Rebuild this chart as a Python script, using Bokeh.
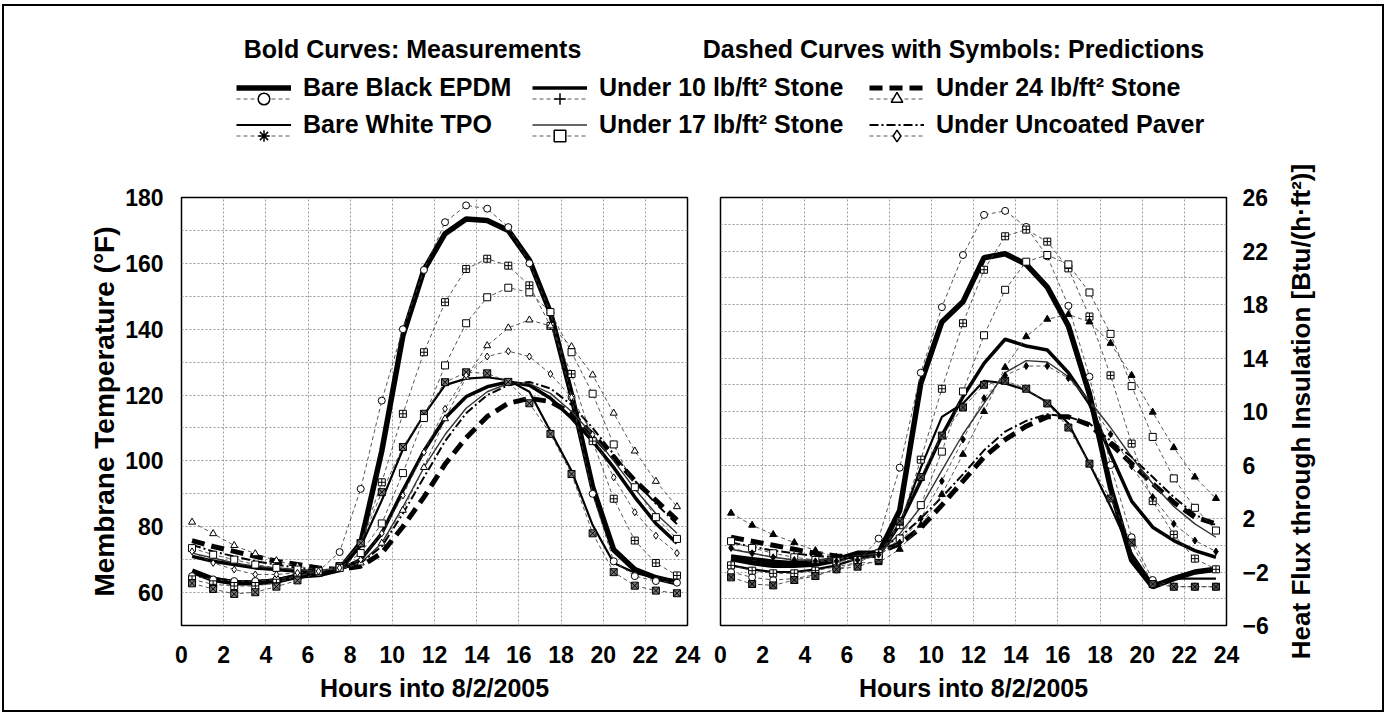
import math
from bokeh.plotting import figure
from bokeh.models import Range1d, SingleIntervalTicker, FixedTicker, Legend, LegendItem, Label
from bokeh.layouts import column, row
from bokeh.embed import file_html
from bokeh.resources import INLINE

FONT = "Liberation Sans"
NAN = float("nan")

hours = [0.5, 1.5, 2.5, 3.5, 4.5, 5.5, 6.5, 7.5, 8.5, 9.5, 10.5, 11.5,
         12.5, 13.5, 14.5, 15.5, 16.5, 17.5, 18.5, 19.5, 20.5, 21.5, 22.5, 23.5]

series_names = ["Bare Black EPDM", "Under 10 lb/ft\u00b2 Stone", "Under 24 lb/ft\u00b2 Stone",
                "Bare White TPO", "Under 17 lb/ft\u00b2 Stone", "Under Uncoated Paver"]

# ---- Left panel: membrane temperature (F) ----
temp_black_meas = [66.5, 64, 63, 63, 63.5, 65, 65.5, 67, 75, 103, 138, 158, 169, 173.5, 173, 170, 161, 145, 120, 92, 73, 67, 64.5, 63]
temp_10_meas = [71, 69.5, 68.5, 67.5, 67, 66.5, 66.5, 67, 70, 78, 91, 103, 113, 119.5, 122.5, 124, 123, 119, 113, 106, 98, 89, 81, 75]
temp_24_meas = [75.8, 74, 72.5, 71, 69.5, 68.5, 67.5, 67, 68, 72, 80, 89, 99, 107, 113.5, 117.5, 119, 118, 114.5, 108, 101, 94, 88, 82]
temp_tpo_meas = [66, 64.5, 63.5, 63.5, 64, 65.5, 66, 67.5, 74, 88, 103.5, 114, 123, 125, 125.4, 124.5, 121, 109, 97, 80.5, 69, 66, 64.5, 63.7]
temp_17_meas = [72, 70.5, 69, 68, 67.5, 67, 66.5, 67, 69, 75, 86, 98, 108, 116, 121, 123.5, 123.5, 120.5, 115, 108, 100, 91.5, 84, 78]
temp_paver_meas = [74.5, 72.5, 71, 69.5, 68.5, 67.5, 66.5, 67, 69, 74, 84, 95, 106, 114.5, 120, 123, 124, 122, 117, 110, 102, 94, 87, 80.8]

temp_black_pred = [65, 64, 63.5, 63.5, 64, 65, 66.5, 72.3, 91.5, 118.3, 140, 158, 172.5, 177.6, 176.6, 171, 160, 145, 119.3, 90, 69.5, 65, 63.5, 63]
temp_10_pred = [64, 62.5, 62, 62, 63, 65, 66.5, 68, 75, 93.5, 114.3, 133, 148.2, 158.3, 161.4, 159.3, 153.3, 141, 126.4, 106, 88.5, 75.8, 69, 65.2]
temp_24_pred = [81.4, 77.9, 74.3, 71.8, 69.7, 68, 67, 67, 69, 75, 85, 98, 112.8, 125.4, 135, 140.4, 142.8, 141, 134.7, 126.1, 114.5, 103, 93.8, 86.1]
temp_tpo_pred = [62.8, 61.1, 59.6, 60.1, 61.8, 63.7, 66, 68, 75, 90.5, 104.2, 114.3, 123.9, 126.9, 126.6, 124, 117.5, 108.2, 96, 78, 66.2, 62.1, 60.6, 59.8]
temp_17_pred = [73.5, 71.5, 70, 68.5, 67.5, 67, 66.5, 67.5, 72, 81, 96.3, 113, 129, 141.8, 149.7, 152.6, 151.2, 145.2, 133, 120.4, 105, 92, 82.9, 76.3]
temp_paver_pred = [72.5, 69, 67, 65.5, 65.5, 66, 66.5, 67.5, 70, 78, 89.5, 102.6, 115.8, 126, 131.7, 133.3, 131.7, 126.4, 119.3, 108, 95, 84.4, 77.3, 72]

# ---- Right panel: heat flux through insulation [Btu/(h ft2)] ----
flux_black_meas = [-1.0, -1.3, -1.5, -1.5, -1.4, -1.1, -0.6, -0.6, 2.6, 12.1, 16.7, 18.2, 21.5, 21.8, 21.0, 19.3, 16.4, 11.3, 4.3, -1.1, -3.1, -2.5, -2.0, -1.8]
flux_10_meas = [-0.8, -1.0, -1.2, -1.3, -1.2, -1.0, -0.8, -0.8, 1.6, 4.8, 8.2, 11.1, 13.6, 15.4, 14.9, 14.6, 12.9, 10.6, 6.8, 3.3, 1.35, 0.35, -0.4, -0.9]
flux_24_meas = [0.6, 0.3, 0.0, -0.3, -0.6, -0.8, -0.9, -0.5, 0.1, 1.3, 3.0, 4.8, 6.6, 7.9, 8.9, 9.6, 9.6, 9.0, 7.6, 6.1, 4.6, 3.2, 2.1, 1.6]
flux_tpo_meas = [-1.5, -1.8, -2.0, -2.0, -1.8, -1.5, -1.0, -0.8, 1.5, 5.8, 9.6, 10.6, 12.3, 12.1, 11.6, 10.7, 9.1, 6.1, 2.9, -0.6, -2.9, -2.5, -2.5, -2.5]
flux_17_meas = [-0.3, -0.6, -0.9, -1.1, -1.1, -1.0, -0.8, -0.6, 0.85, 2.85, 5.6, 8.3, 10.6, 12.9, 13.8, 13.7, 12.6, 10.8, 8.8, 6.6, 4.6, 2.9, 1.6, 0.6]
flux_paver_meas = [0.2, -0.1, -0.4, -0.6, -0.8, -0.9, -0.9, -0.3, 0.6, 2.0, 3.6, 5.3, 7.1, 8.5, 9.3, 9.8, 9.6, 9.1, 7.8, 6.6, 5.1, 3.6, 2.3, 1.5]

flux_black_pred = [-2.0, -2.4, -2.6, -2.5, -2.2, -1.8, -1.3, 0.5, 5.8, 12.9, 17.8, 21.7, 24.7, 25.0, 23.8, 21.6, 17.9, 12.6, 6.0, 0.6, -2.6, -3.1, -3.1, -3.1]
flux_10_pred = [-1.5, -1.9, -2.1, -2.1, -1.9, -1.6, -1.3, -0.6, 1.5, 6.4, 11.7, 16.6, 20.6, 23.1, 23.6, 22.7, 20.7, 17.1, 12.7, 7.6, 3.3, 0.8, -1.0, -1.8]
flux_24_pred = [2.4, 1.5, 0.8, 0.2, -0.4, -0.9, -1.3, -1.3, -0.3, 1.5, 3.8, 6.8, 10.0, 13.3, 15.6, 16.9, 17.25, 16.7, 15.1, 12.7, 9.95, 7.3, 5.1, 3.5]
flux_tpo_pred = [-2.4, -2.9, -3.0, -2.6, -2.3, -1.8, -1.6, -1.1, 1.8, 5.1, 8.2, 10.3, 12.0, 12.3, 11.7, 10.6, 8.8, 6.1, 3.5, 0.2, -2.9, -3.1, -3.1, -3.1]
flux_17_pred = [0.3, -0.2, -0.6, -0.9, -1.1, -1.2, -1.1, -0.8, 0.5, 3.0, 7.0, 11.5, 15.7, 19.1, 21.2, 21.7, 21.0, 18.9, 15.8, 11.9, 8.1, 5.0, 2.8, 1.1]
flux_paver_pred = [-0.2, -0.6, -0.9, -1.1, -1.2, -1.2, -1.1, -0.7, 0.2, 2.0, 4.8, 7.9, 11.0, 12.7, 13.4, 13.4, 12.5, 10.7, 8.3, 5.9, 3.6, 1.6, 0.35, -0.47]

left_meas = [temp_black_meas, temp_10_meas, temp_24_meas, temp_tpo_meas, temp_17_meas, temp_paver_meas]
left_pred = [temp_black_pred, temp_10_pred, temp_24_pred, temp_tpo_pred, temp_17_pred, temp_paver_pred]
right_meas = [flux_black_meas, flux_10_meas, flux_24_meas, flux_tpo_meas, flux_17_meas, flux_paver_meas]
right_pred = [flux_black_pred, flux_10_pred, flux_24_pred, flux_tpo_pred, flux_17_pred, flux_paver_pred]

right_title = "Heat Flux through Insulation [Btu/(h\u00b7ft\u00b2)]"

# styles (order as series_names)
meas_style = [
    dict(line_width=5.5, line_dash="solid", line_color="black"),
    dict(line_width=3.5, line_dash="solid", line_color="black"),
    dict(line_width=5.0, line_dash="13 7", line_color="black"),
    dict(line_width=2.2, line_dash="solid", line_color="black"),
    dict(line_width=1.4, line_dash="solid", line_color="#333333"),
    dict(line_width=2.0, line_dash="9 3 2 3", line_color="black"),
]
plot_markers = ["circle", "square_cross", "triangle", "square_x", "square", "diamond"]
legend_markers = ["circle", "cross", "triangle", "asterisk", "square", "diamond"]
left_fill = ["white", "white", "white", "#777777", "white", "white"]
right_fill = ["white", "white", "black", "#555555", "white", "black"]
PRED_LINE = dict(line_width=0.9, line_dash="4 3", line_color="#444444")


def style_panel(p):
    p.outline_line_color = "black"
    p.outline_line_width = 1.5
    p.background_fill_color = "white"
    p.border_fill_color = "white"
    for g in (p.xgrid, p.ygrid):
        g.grid_line_color = "#9a9a9a"
        g.grid_line_dash = "2 2"
        g.grid_line_width = 1
    for ax in p.axis:
        ax.axis_line_color = None
        ax.major_tick_line_color = None
        ax.minor_tick_line_color = None
        ax.major_label_text_font = FONT
        ax.major_label_text_font_style = "bold"
        ax.major_label_text_font_size = "23px"
        ax.major_label_text_color = "black"
        ax.axis_label_text_font = FONT
        ax.axis_label_text_font_style = "bold"
        ax.axis_label_text_font_size = "25px"
        ax.axis_label_text_color = "black"
    p.xaxis.ticker = SingleIntervalTicker(interval=2)
    p.xgrid.ticker = SingleIntervalTicker(interval=2)
    p.xaxis.axis_label = "Hours into 8/2/2005"
    p.xaxis.major_label_standoff = 14
    p.xaxis.axis_label_standoff = 8


def draw(p, meas, pred, fills):
    for ys, st in zip(meas, meas_style):
        p.line(hours, ys, **st)
    for ys in pred:
        p.line(hours, ys, **PRED_LINE)
    for ys, mk, fc in zip(pred, plot_markers, fills):
        p.scatter(hours, ys, marker=mk, size=7, line_color="black", line_width=1, fill_color=fc)


PLOT_H = 554
LEG_H = 150
p1 = figure(width=697, height=PLOT_H, x_range=Range1d(0, 24), y_range=Range1d(50, 180),
            output_backend="svg", toolbar_location=None,
            min_border_left=177, min_border_right=14, min_border_top=41, min_border_bottom=85)
style_panel(p1)
p1.yaxis.ticker = SingleIntervalTicker(interval=20)
p1.ygrid.ticker = SingleIntervalTicker(interval=10)
p1.yaxis.axis_label = "Membrane Temperature (\u00b0F)"
p1.yaxis.axis_label_text_font_size = "28px"
p1.yaxis.major_label_standoff = 12
p1.yaxis.axis_label_standoff = 2
draw(p1, left_meas, left_pred, left_fill)

p2 = figure(width=575, height=PLOT_H, x_range=Range1d(0, 24), y_range=Range1d(-6, 26),
            y_axis_location="right", output_backend="svg", toolbar_location=None,
            min_border_left=19, min_border_right=50, min_border_top=41, min_border_bottom=85)
style_panel(p2)
p2.yaxis.ticker = FixedTicker(ticks=[-6, -2, 2, 6, 10, 14, 18, 22, 26])
p2.ygrid.ticker = SingleIntervalTicker(interval=2)
p2.yaxis.major_label_standoff = 10
draw(p2, right_meas, right_pred, right_fill)

# full-height strip holding the right axis title (reads bottom-to-top like the reference)
STRIP_H = LEG_H + PLOT_H
p3 = figure(width=106, height=STRIP_H, x_range=Range1d(0, 1), y_range=Range1d(0, 1),
            output_backend="svg", toolbar_location=None, x_axis_location=None, y_axis_location=None,
            min_border=0)
p3.grid.visible = False
p3.outline_line_color = None
p3.add_layout(Label(x=24, y=STRIP_H - (LEG_H + 41 + 214), x_units="screen", y_units="screen",
                    text=right_title, angle=math.pi / 2,
                    text_align="center", text_baseline="middle", text_font=FONT,
                    text_font_style="bold", text_font_size="26px", text_color="black"))

# ---- legend strip ----
leg = figure(width=1272, height=LEG_H, x_range=Range1d(0, 1), y_range=Range1d(0, 1),
             output_backend="svg", toolbar_location=None, x_axis_location=None, y_axis_location=None,
             min_border=0)
leg.grid.visible = False
leg.outline_line_color = None

meas_r = [leg.line(x=[NAN], y=[NAN], **st) for st in meas_style]
pred_l = [leg.line(x=[NAN], y=[NAN], **PRED_LINE) for _ in series_names]
pred_m = [leg.scatter(x=[NAN], y=[NAN], marker=mk, size=8, line_color="black", line_width=1.5,
                      fill_color="white") for mk in legend_markers]

LEG_FONT_SIZE = "25px"
col_x = [232, 528, 865]
col_items = [[0, 3], [1, 4], [2, 5]]
MEAS_Y = 17
PRED_Y = 6
for cx, idxs in zip(col_x, col_items):
    lm = Legend(items=[LegendItem(label=series_names[i], renderers=[meas_r[i]]) for i in idxs],
                location=(cx, MEAS_Y), orientation="vertical", glyph_width=55, glyph_height=29,
                spacing=8, padding=0, margin=0, label_standoff=12,
                label_text_font=FONT, label_text_font_style="bold", label_text_font_size=LEG_FONT_SIZE,
                label_text_color="black", border_line_color=None, background_fill_alpha=0)
    lp = Legend(items=[LegendItem(label=" ", renderers=[pred_l[i], pred_m[i]]) for i in idxs],
                location=(cx, PRED_Y), orientation="vertical", glyph_width=55, glyph_height=29,
                spacing=8, padding=0, margin=0, label_standoff=12,
                label_text_font=FONT, label_text_font_size=LEG_FONT_SIZE,
                border_line_color=None, background_fill_alpha=0)
    leg.add_layout(lm, "center")
    leg.add_layout(lp, "center")

for txt, xc in [("Bold Curves: Measurements", 408), ("Dashed Curves with Symbols: Predictions", 949)]:
    leg.add_layout(Label(x=xc, y=LEG_H - 42, x_units="screen", y_units="screen", text=txt,
                         text_align="center", text_baseline="middle", text_font=FONT,
                         text_font_style="bold", text_font_size="25px", text_color="black"))

layout = row(column(leg, row(p1, p2)), p3,
             styles={"border": "2px solid black", "background-color": "white"},
             margin=(4, 0, 0, 2))

open("out.html", "w").write(file_html(layout, INLINE))
